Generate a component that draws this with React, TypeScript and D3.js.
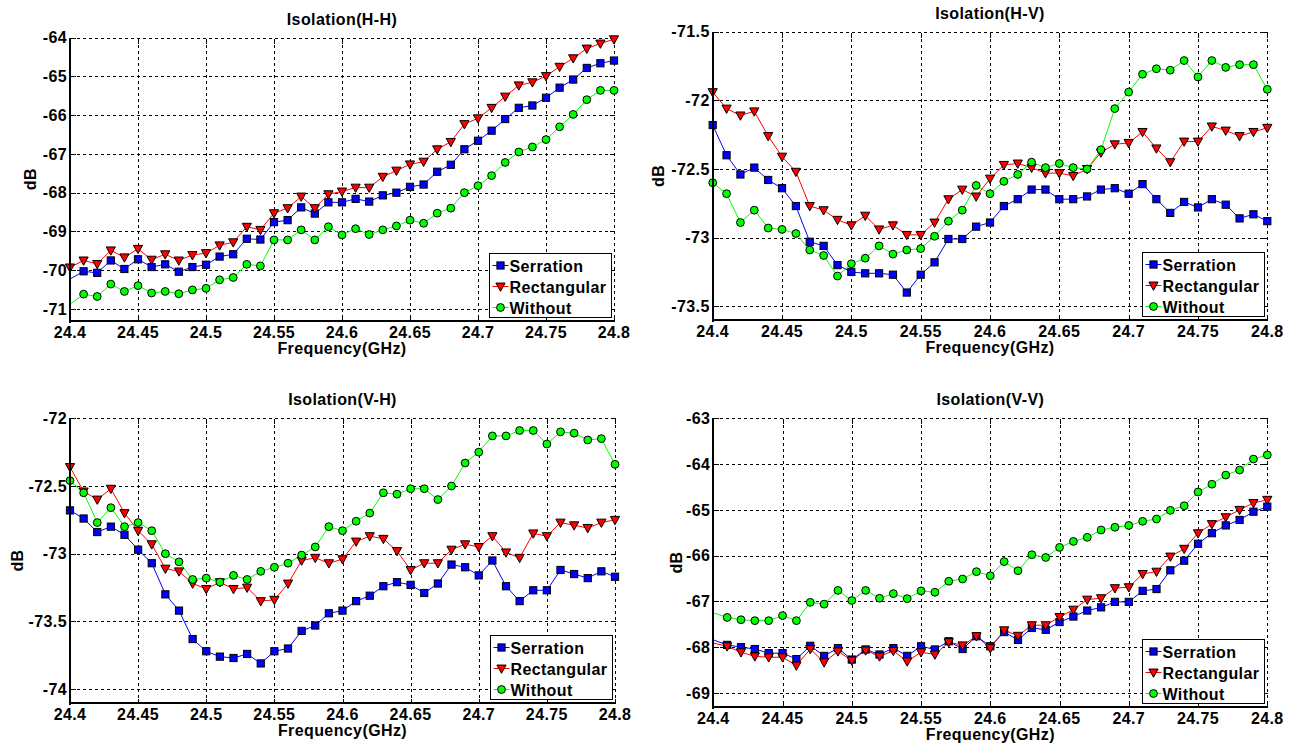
import React from "react";
import * as d3 from "d3";

// ---------------- DATA ----------------
const FREQ = [
  24.40, 24.41, 24.42, 24.43, 24.44, 24.45, 24.46, 24.47, 24.48, 24.49,
  24.50, 24.51, 24.52, 24.53, 24.54, 24.55, 24.56, 24.57, 24.58, 24.59,
  24.60, 24.61, 24.62, 24.63, 24.64, 24.65, 24.66, 24.67, 24.68, 24.69,
  24.70, 24.71, 24.72, 24.73, 24.74, 24.75, 24.76, 24.77, 24.78, 24.79, 24.80,
];
const X_TICKS = [24.4, 24.45, 24.5, 24.55, 24.6, 24.65, 24.7, 24.75, 24.8];
const X_TICK_LABELS = ["24.4", "24.45", "24.5", "24.55", "24.6", "24.65", "24.7", "24.75", "24.8"];
const SERIES_NAMES = ["Serration", "Rectangular", "Without"];

// Isolation(H-H)
const HH_SERRATION = [
  -70.23, -70.03, -70.07, -69.75, -69.97, -69.72, -69.92, -69.85, -70.04, -69.92,
  -69.86, -69.65, -69.59, -69.19, -69.21, -68.76, -68.71, -68.38, -68.54, -68.25,
  -68.25, -68.16, -68.23, -68.07, -68.0, -67.85, -67.79, -67.46, -67.28, -66.88,
  -66.66, -66.40, -66.10, -65.81, -65.75, -65.55, -65.29, -65.08, -64.78, -64.66, -64.59,
];
const HH_RECTANGULAR = [
  -69.93, -69.75, -69.84, -69.49, -69.67, -69.45, -69.73, -69.59, -69.75, -69.61,
  -69.56, -69.36, -69.28, -68.88, -68.96, -68.53, -68.40, -68.10, -68.40, -68.04,
  -67.97, -67.87, -67.87, -67.59, -67.43, -67.27, -67.20, -66.88, -66.69, -66.23,
  -66.08, -65.81, -65.52, -65.23, -65.15, -64.99, -64.75, -64.53, -64.28, -64.15, -64.04,
];
const HH_WITHOUT = [
  -70.88, -70.62, -70.68, -70.36, -70.55, -70.40, -70.59, -70.55, -70.61, -70.51,
  -70.47, -70.25, -70.19, -69.85, -69.89, -69.22, -69.22, -68.96, -69.22, -68.88,
  -69.09, -68.93, -69.08, -68.96, -68.86, -68.71, -68.79, -68.53, -68.40, -68.0,
  -67.82, -67.56, -67.22, -66.95, -66.82, -66.63, -66.30, -65.98, -65.60, -65.36, -65.36,
];

// Isolation(H-V)
const HV_SERRATION = [
  -72.18, -72.40, -72.54, -72.49, -72.58, -72.64, -72.77, -73.03, -73.06, -73.20,
  -73.25, -73.26, -73.26, -73.27, -73.40, -73.27, -73.18, -73.01, -73.01, -72.92,
  -72.89, -72.77, -72.72, -72.65, -72.65, -72.72, -72.72, -72.70, -72.65, -72.64,
  -72.68, -72.61, -72.72, -72.82, -72.74, -72.78, -72.72, -72.76, -72.86, -72.83, -72.88,
];
const HV_RECTANGULAR = [
  -71.94, -72.06, -72.11, -72.08, -72.26, -72.41, -72.52, -72.77, -72.80, -72.87,
  -72.91, -72.84, -72.94, -72.91, -72.98, -72.98, -72.89, -72.72, -72.65, -72.70,
  -72.57, -72.47, -72.46, -72.49, -72.53, -72.53, -72.55, -72.50, -72.38, -72.32,
  -72.31, -72.23, -72.35, -72.45, -72.30, -72.30, -72.19, -72.22, -72.26, -72.23, -72.20,
];
const HV_WITHOUT = [
  -72.60, -72.68, -72.89, -72.80, -72.93, -72.94, -72.97, -73.09, -73.13, -73.28,
  -73.19, -73.15, -73.06, -73.12, -73.09, -73.08, -72.99, -72.88, -72.80, -72.62,
  -72.68, -72.59, -72.54, -72.45, -72.49, -72.46, -72.49, -72.50, -72.36, -72.06,
  -71.94, -71.81, -71.77, -71.78, -71.71, -71.83, -71.71, -71.76, -71.74, -71.74, -71.92,
];

// Isolation(V-H)
const VH_SERRATION = [
  -72.68, -72.74, -72.84, -72.80, -72.86, -72.97, -73.07, -73.30, -73.42, -73.63,
  -73.72, -73.76, -73.77, -73.74, -73.81, -73.72, -73.70, -73.57, -73.53, -73.44,
  -73.42, -73.35, -73.31, -73.24, -73.21, -73.23, -73.29, -73.22, -73.08, -73.10,
  -73.16, -73.05, -73.24, -73.35, -73.27, -73.27, -73.12, -73.15, -73.18, -73.13, -73.17,
];
const VH_RECTANGULAR = [
  -72.36, -72.54, -72.60, -72.52, -72.70, -72.83, -72.93, -73.11, -73.13, -73.22,
  -73.26, -73.21, -73.26, -73.25, -73.35, -73.34, -73.22, -73.05, -73.03, -73.07,
  -73.04, -72.91, -72.87, -72.89, -72.98, -73.12, -73.07, -73.07, -72.97, -72.93,
  -72.95, -72.87, -72.99, -73.03, -72.85, -72.87, -72.77, -72.79, -72.81, -72.77, -72.75,
];
const VH_WITHOUT = [
  -72.46, -72.55, -72.77, -72.66, -72.80, -72.77, -72.83, -73.00, -73.06, -73.19,
  -73.18, -73.21, -73.16, -73.19, -73.13, -73.10, -73.07, -73.01, -72.95, -72.80,
  -72.83, -72.76, -72.70, -72.55, -72.56, -72.52, -72.52, -72.60, -72.50, -72.33,
  -72.25, -72.13, -72.13, -72.09, -72.09, -72.19, -72.10, -72.11, -72.16, -72.15, -72.34,
];

// Isolation(V-V)
const VV_SERRATION = [
  -67.84, -67.95, -68.00, -68.04, -68.13, -68.13, -68.26, -67.97, -68.19, -68.02,
  -68.27, -68.05, -68.16, -68.02, -68.19, -67.98, -68.05, -67.87, -68.04, -67.76,
  -67.98, -67.67, -67.84, -67.58, -67.62, -67.45, -67.33, -67.20, -67.13, -67.01,
  -67.01, -66.77, -66.73, -66.32, -66.11, -65.74, -65.51, -65.34, -65.22, -65.04, -64.93,
];
const VV_RECTANGULAR = [
  -67.91, -67.98, -68.11, -68.20, -68.22, -68.22, -68.40, -68.04, -68.33, -68.09,
  -68.29, -68.07, -68.20, -68.08, -68.31, -68.11, -68.16, -67.89, -67.96, -67.76,
  -68.02, -67.63, -67.75, -67.52, -67.52, -67.34, -67.18, -66.96, -66.93, -66.71,
  -66.69, -66.40, -66.35, -66.02, -65.85, -65.51, -65.31, -65.16, -65.00, -64.85, -64.78,
];
const VV_WITHOUT = [
  -67.25, -67.35, -67.40, -67.42, -67.42, -67.31, -67.42, -67.02, -67.06, -66.76,
  -66.98, -66.76, -66.93, -66.83, -66.94, -66.77, -66.80, -66.56, -66.51, -66.35,
  -66.44, -66.13, -66.33, -65.98, -66.04, -65.82, -65.69, -65.60, -65.44, -65.38,
  -65.34, -65.25, -65.20, -65.01, -64.91, -64.61, -64.44, -64.24, -64.13, -63.89, -63.80,
];

const HH_Y_TICKS = [-64, -65, -66, -67, -68, -69, -70, -71];
const HV_Y_TICKS = [-71.5, -72, -72.5, -73, -73.5];
const VH_Y_TICKS = [-72, -72.5, -73, -73.5, -74];
const VV_Y_TICKS = [-63, -64, -65, -66, -67, -68, -69];

// ---------------- LAYOUT / STYLE ----------------
const COLORS = ["#0000ff", "#ff0000", "#00ff00"];
const FONT = "'Liberation Sans', Arial, Helvetica, sans-serif";

const PANELS = [
  {
    title: "Isolation(H-H)",
    series: [HH_SERRATION, HH_RECTANGULAR, HH_WITHOUT],
    yTicks: HH_Y_TICKS,
    yDomain: [-71.3, -64],
    rect: { left: 70, right: 614, top: 37.7, bottom: 320.5 },
    dbOffset: 34,
    firstMarker: [false, true, false],
  },
  {
    title: "Isolation(H-V)",
    series: [HV_SERRATION, HV_RECTANGULAR, HV_WITHOUT],
    yTicks: HV_Y_TICKS,
    yDomain: [-73.6, -71.5],
    rect: { left: 712.7, right: 1267.3, top: 31.7, bottom: 320 },
    dbOffset: 49,
    firstMarker: [true, true, true],
  },
  {
    title: "Isolation(V-H)",
    series: [VH_SERRATION, VH_RECTANGULAR, VH_WITHOUT],
    yTicks: VH_Y_TICKS,
    yDomain: [-74.1, -72],
    rect: { left: 70, right: 615, top: 418.3, bottom: 702.7 },
    dbOffset: 47,
    firstMarker: [true, true, true],
  },
  {
    title: "Isolation(V-V)",
    series: [VV_SERRATION, VV_RECTANGULAR, VV_WITHOUT],
    yTicks: VV_Y_TICKS,
    yDomain: [-69.3, -63],
    rect: { left: 713.3, right: 1267.3, top: 418.3, bottom: 706.7 },
    dbOffset: 31,
    firstMarker: [false, false, false],
  },
];

const snap = (v: number) => Math.round(v) + 0.5;

function Marker({ kind, x, y }: { kind: number; x: number; y: number }) {
  const stroke = "#000";
  if (kind === 0) {
    const s = 3.6;
    return (
      <rect x={x - s} y={y - s} width={2 * s} height={2 * s} fill={COLORS[0]} stroke={stroke} strokeWidth={1} />
    );
  }
  if (kind === 1) {
    const s = 4.6;
    const p = `M${x - s},${y - s * 0.75}L${x + s},${y - s * 0.75}L${x},${y + s * 1.05}Z`;
    return <path d={p} fill={COLORS[1]} stroke={stroke} strokeWidth={1} />;
  }
  return <circle cx={x} cy={y} r={3.9} fill={COLORS[2]} stroke={stroke} strokeWidth={1} />;
}

function Panel({ cfg }: { cfg: (typeof PANELS)[number] }) {
  const { rect } = cfg;
  const x = d3.scaleLinear().domain([24.4, 24.8]).range([rect.left, rect.right]);
  const y = d3.scaleLinear().domain(cfg.yDomain).range([rect.bottom, rect.top]);
  const line = d3
    .line<number>()
    .x((_, i) => x(FREQ[i]))
    .y((d) => y(d));
  const cx = (rect.left + rect.right) / 2;
  const cy = (rect.top + rect.bottom) / 2;
  const textStyle = { fontFamily: FONT, fontWeight: 700, fontSize: 16, letterSpacing: 0.4 } as const;
  const lgW = 122;
  const lgH = 64;
  const lgL = Math.round(rect.right - 3 - lgW) + 0.5;
  const lgT = Math.round(rect.bottom - 4 - lgH) + 0.5;
  const L = snap(rect.left), R = snap(rect.right), T = snap(rect.top), B = snap(rect.bottom);

  return (
    <g>
      {/* grid */}
      <g shapeRendering="crispEdges">
        {X_TICKS.map((t, i) => (
          <line key={"gx" + i} x1={snap(x(t))} x2={snap(x(t))} y1={T} y2={B} stroke="#000" strokeWidth={1} strokeDasharray="3,3" />
        ))}
        {cfg.yTicks.map((t, i) => (
          <line key={"gy" + i} x1={L} x2={R} y1={snap(y(t))} y2={snap(y(t))} stroke="#000" strokeWidth={1} strokeDasharray="3,3" />
        ))}
        <line x1={L} x2={R} y1={T} y2={T} stroke="#000" strokeWidth={1} strokeDasharray="3,3" />
        <line x1={R} x2={R} y1={T} y2={B} stroke="#000" strokeWidth={1} strokeDasharray="3,3" />
        {/* inner ticks */}
        {X_TICKS.map((t, i) => (
          <g key={"tx" + i}>
            <line x1={snap(x(t))} x2={snap(x(t))} y1={B} y2={B - 5} stroke="#000" strokeWidth={1} />
            <line x1={snap(x(t))} x2={snap(x(t))} y1={T} y2={T + 5} stroke="#000" strokeWidth={1} />
          </g>
        ))}
        {cfg.yTicks.map((t, i) => (
          <g key={"ty" + i}>
            <line x1={L} x2={L + 5} y1={snap(y(t))} y2={snap(y(t))} stroke="#000" strokeWidth={1} />
            <line x1={R} x2={R - 5} y1={snap(y(t))} y2={snap(y(t))} stroke="#000" strokeWidth={1} />
          </g>
        ))}
      </g>
      {/* series */}
      {cfg.series.map((s, k) => (
        <path key={"l" + k} d={line(s) || ""} fill="none" stroke={COLORS[k]} strokeWidth={1} />
      ))}
      {cfg.series.map((s, k) => (
        <g key={"m" + k}>
          {s.map((v, i) =>
            i === 0 && !cfg.firstMarker[k] ? null : <Marker key={i} kind={k} x={x(FREQ[i])} y={y(v)} />
          )}
        </g>
      ))}
      {/* axes */}
      <g shapeRendering="crispEdges">
        <line x1={Math.round(rect.left)} x2={Math.round(rect.left)} y1={T - 0.5} y2={B + 1.5} stroke="#000" strokeWidth={2} />
        <line x1={Math.round(rect.left) - 1} x2={R + 0.5} y1={Math.round(rect.bottom)} y2={Math.round(rect.bottom)} stroke="#000" strokeWidth={2} />
      </g>
      {/* tick labels */}
      {X_TICKS.map((t, i) => (
        <text key={"xl" + i} x={x(t)} y={rect.bottom + 17} textAnchor="middle" style={textStyle}>
          {X_TICK_LABELS[i]}
        </text>
      ))}
      {cfg.yTicks.map((t, i) => (
        <text key={"yl" + i} x={rect.left - 3} y={y(t)} dy="0.36em" textAnchor="end" style={textStyle}>
          {String(t)}
        </text>
      ))}
      {/* titles */}
      <text x={cx} y={rect.top - 13} textAnchor="middle" style={textStyle}>
        {cfg.title}
      </text>
      <text x={cx} y={rect.bottom + 33} textAnchor="middle" style={textStyle}>
        Frequency(GHz)
      </text>
      <text
        transform={`translate(${rect.left - cfg.dbOffset},${cy}) rotate(-90)`}
        textAnchor="middle"
        style={textStyle}
      >
        dB
      </text>
      {/* legend */}
      <rect x={lgL} y={lgT} width={lgW} height={lgH} fill="#fff" stroke="#000" strokeWidth={1.5} shapeRendering="crispEdges" />
      {SERIES_NAMES.map((name, k) => {
        const my = lgT + 12 + k * 21;
        return (
          <g key={"lg" + k}>
            <line x1={lgL + 3} x2={lgL + 19} y1={my} y2={my} stroke={COLORS[k]} strokeWidth={1} />
            <Marker kind={k} x={lgL + 11} y={my} />
            <text x={lgL + 20} y={lgT + 18 + k * 21} style={textStyle}>
              {name}
            </text>
          </g>
        );
      })}
    </g>
  );
}

export default function App() {
  return (
    <svg
      width={1295}
      height={744}
      style={{ position: "absolute", left: 0, top: 0, background: "#fff" }}
    >
      <rect x={0} y={0} width={1295} height={744} fill="#fff" />
      {PANELS.map((p, i) => (
        <Panel key={i} cfg={p} />
      ))}
    </svg>
  );
}
